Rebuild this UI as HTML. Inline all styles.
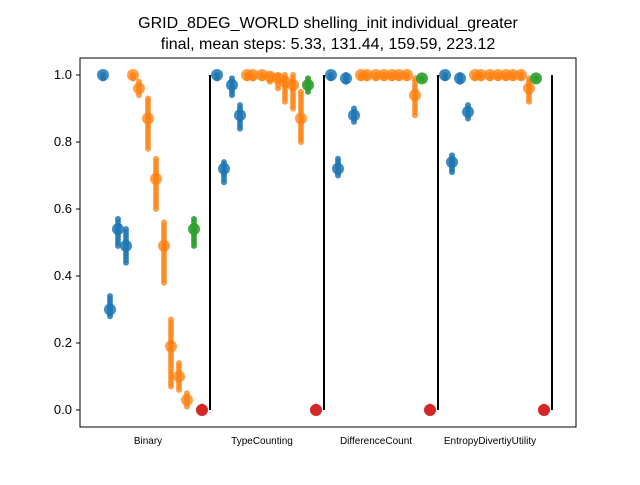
<!DOCTYPE html>
<html><head><meta charset="utf-8"><style>body{margin:0;background:#fff}svg{font-family:"Liberation Sans","DejaVu Sans",sans-serif}</style></head>
<body>
<svg id="chart" width="640" height="480" viewBox="0 0 640 480">
<text x="328" y="28" text-anchor="middle" font-size="16">GRID_8DEG_WORLD shelling_init individual_greater</text>
<text x="328" y="49" text-anchor="middle" font-size="16">final, mean steps: 5.33, 131.44, 159.59, 223.12</text>
<g id="plot"></g>
<rect x="80" y="58" width="496" height="369" fill="none" stroke="#000" stroke-width="1"/>
</svg>
<script>
const categories=["Binary","TypeCounting","DifferenceCount","EntropyDivertiyUtility"];
const yTicks=[0.0,0.2,0.4,0.6,0.8,1.0];
const blueMean=[[1.0,0.54,0.49,0.30],[1.0,0.97,0.88,0.72],[1.0,0.99,0.88,0.72],[1.0,0.99,0.89,0.74]];
const blueLo=[[0.99,0.49,0.44,0.28],[0.99,0.94,0.84,0.68],[0.99,0.98,0.86,0.70],[0.99,0.98,0.87,0.71]];
const blueHi=[[1.0,0.57,0.54,0.34],[1.0,0.99,0.91,0.74],[1.0,1.0,0.90,0.75],[1.0,1.0,0.91,0.76]];
const orangeMean=[[1.0,0.96,0.87,0.69,0.49,0.19,0.10,0.03],[1.0,1.0,1.0,0.995,0.99,0.98,0.97,0.87],[1.0,1.0,1.0,1.0,1.0,1.0,1.0,0.94],[1.0,1.0,1.0,1.0,1.0,1.0,1.0,0.96]];
const orangeLo=[[0.99,0.94,0.78,0.60,0.38,0.07,0.06,0.01],[0.99,0.99,0.99,0.98,0.96,0.92,0.90,0.80],[0.99,0.99,0.99,0.99,0.99,0.99,0.99,0.88],[0.99,0.99,0.99,0.99,0.99,0.99,0.99,0.92]];
const orangeHi=[[1.0,0.98,0.93,0.75,0.56,0.27,0.14,0.05],[1.0,1.0,1.0,1.0,1.0,1.0,1.0,0.95],[1.0,1.0,1.0,1.0,1.0,1.0,1.0,0.99],[1.0,1.0,1.0,1.0,1.0,1.0,1.0,0.99]];
const greenMean=[0.54,0.97,0.99,0.99];
const greenLo=[0.49,0.95,0.99,0.99];
const greenHi=[0.57,0.99,0.99,0.99];
const redMean=[0.0,0.0,0.0,0.0];

const NS="http://www.w3.org/2000/svg";
const plot=document.getElementById('plot');
const y=v=>410-v*335;
const gx=i=>96+114*i;
const blueOff=[7,22,30,14], orangeOff=[37,43,52,60,68,75,83,91], greenOff=98, redOff=106;
function mk(tag,attrs){const e=document.createElementNS(NS,tag);for(const k in attrs)e.setAttribute(k,attrs[k]);plot.appendChild(e);return e;}
function cluster(x,mean,lo,hi,color,op,name){
  const n=Math.max(1,Math.round((hi-lo)*335/3));
  for(let k=0;k<=n;k++){const v=lo+(hi-lo)*k/n;
    const c=mk('circle',{cx:x,cy:y(v),r:3,fill:color,'fill-opacity':op});
    
    }
  const m=mk('circle',{cx:x,cy:y(mean),r:6,fill:color,'fill-opacity':op});
  
  
}
yTicks.forEach(t=>{
  const l=mk('line',{x1:76,x2:80,y1:y(t),y2:y(t),stroke:'#000'});
  
  
  const tx=mk('text',{x:72,y:y(t)+4,'text-anchor':'end','font-size':13});
  tx.textContent=t.toFixed(1);
  
  
});
categories.forEach((c,i)=>{
  const g=gx(i);
  const tx=mk('text',{x:g+52,y:444,'text-anchor':'middle','font-size':10});
  tx.textContent=c;
  
  
  const sep=mk('line',{x1:g+114,x2:g+114,y1:y(1),y2:y(0),stroke:'#000','stroke-width':2});
  
  
  blueMean[i].forEach((v,j)=>cluster(g+blueOff[j],v,blueLo[i][j],blueHi[i][j],'#1f77b4',0.85,'blue'));
  orangeMean[i].forEach((v,j)=>cluster(g+orangeOff[j],v,orangeLo[i][j],orangeHi[i][j],'#ff7f0e',0.75,'orange'));
  cluster(g+greenOff,greenMean[i],greenLo[i],greenHi[i],'#2ca02c',0.9,'green');
  cluster(g+redOff,redMean[i],redMean[i],redMean[i]+0.01,'#d62728',1,'red');
});
</script>
</body></html>
